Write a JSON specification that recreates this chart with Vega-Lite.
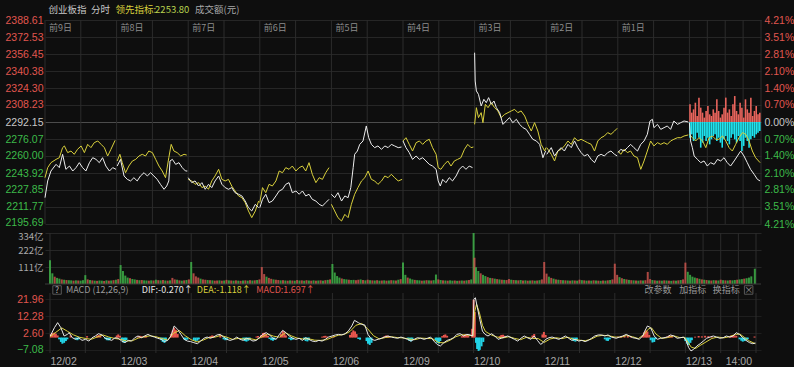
{
  "$schema": "https://vega.github.io/schema/vega-lite/v6.json",
  "background": "#0e0e0e",
  "autosize": {"type": "pad"},
  "padding": {"left": 5, "top": 4, "right": 0, "bottom": 0},
  "bounds": "flush",
  "spacing": 9,
  "config": {
    "view": {"stroke": null},
    "font": "Noto Sans CJK SC",
    "axis": {"domain": false, "ticks": false, "tickSize": 0, "labelFont": "Liberation Sans", "labelFontSize": 10.5, "gridColor": "#262626", "gridWidth": 1, "labelOverlap": false, "labelFlush": false}
  },
  "datasets": {
    "vgrid": [{"t":0},{"t":120},{"t":240},{"t":360},{"t":480},{"t":600},{"t":720},{"t":840},{"t":960},{"t":1080},{"t":1200},{"t":1320},{"t":1440},{"t":1560},{"t":1680},{"t":1800},{"t":1920},{"t":2040},{"t":2160},{"t":2220},{"t":2280},{"t":2340},{"t":2400}],
    "days": [{"t":0,"label":"前9日"},{"t":240,"label":"前8日"},{"t":480,"label":"前7日"},{"t":720,"label":"前6日"},{"t":960,"label":"前5日"},{"t":1200,"label":"前4日"},{"t":1440,"label":"前3日"},{"t":1680,"label":"前2日"},{"t":1920,"label":"前1日"}],
    "wl": [
      {"d":0,"t":0,"p":2220.6},{"d":0,"t":9,"p":2236.4},{"d":0,"t":20,"p":2245.8},{"d":0,"t":37,"p":2252.1},{"d":0,"t":48,"p":2249.0},{"d":0,"t":59,"p":2261.6},{"d":0,"t":70,"p":2247.4},{"d":0,"t":82,"p":2250.5},{"d":0,"t":93,"p":2245.8},{"d":0,"t":104,"p":2249.0},{"d":0,"t":115,"p":2253.7},{"d":0,"t":126,"p":2249.0},{"d":0,"t":137,"p":2245.8},{"d":0,"t":149,"p":2253.7},{"d":0,"t":160,"p":2258.4},{"d":0,"t":171,"p":2256.8},{"d":0,"t":182,"p":2253.7},{"d":0,"t":193,"p":2258.4},{"d":0,"t":204,"p":2250.5},{"d":0,"t":216,"p":2245.8},{"d":0,"t":227,"p":2249.0},{"d":0,"t":238,"p":2247.4},
      {"d":1,"t":242,"p":2250.5},{"d":1,"t":253,"p":2256.8},{"d":1,"t":265,"p":2241.1},{"d":1,"t":276,"p":2237.9},{"d":1,"t":287,"p":2236.4},{"d":1,"t":298,"p":2239.5},{"d":1,"t":309,"p":2236.4},{"d":1,"t":320,"p":2241.1},{"d":1,"t":332,"p":2244.2},{"d":1,"t":343,"p":2241.1},{"d":1,"t":354,"p":2244.2},{"d":1,"t":365,"p":2241.1},{"d":1,"t":376,"p":2237.9},{"d":1,"t":387,"p":2233.2},{"d":1,"t":399,"p":2228.5},{"d":1,"t":408,"p":2231.6},{"d":1,"t":415,"p":2236.4},{"d":1,"t":419,"p":2255.3},{"d":1,"t":427,"p":2256.8},{"d":1,"t":438,"p":2252.1},{"d":1,"t":449,"p":2253.7},{"d":1,"t":460,"p":2249.0},{"d":1,"t":471,"p":2245.8},{"d":1,"t":477,"p":2245.8},
      {"d":2,"t":480,"p":2239.5},{"d":2,"t":492,"p":2234.8},{"d":2,"t":503,"p":2236.4},{"d":2,"t":515,"p":2231.6},{"d":2,"t":526,"p":2234.8},{"d":2,"t":537,"p":2228.5},{"d":2,"t":548,"p":2233.2},{"d":2,"t":559,"p":2230.1},{"d":2,"t":570,"p":2236.4},{"d":2,"t":582,"p":2241.1},{"d":2,"t":593,"p":2233.2},{"d":2,"t":604,"p":2230.1},{"d":2,"t":615,"p":2228.5},{"d":2,"t":626,"p":2230.1},{"d":2,"t":637,"p":2225.3},{"d":2,"t":649,"p":2223.8},{"d":2,"t":660,"p":2222.2},{"d":2,"t":671,"p":2217.4},{"d":2,"t":682,"p":2211.1},{"d":2,"t":693,"p":2208.0},{"d":2,"t":705,"p":2214.3},{"d":2,"t":716,"p":2211.1},
      {"d":3,"t":720,"p":2211.1},{"d":3,"t":729,"p":2219.0},{"d":3,"t":740,"p":2223.8},{"d":3,"t":751,"p":2215.9},{"d":3,"t":762,"p":2217.4},{"d":3,"t":774,"p":2222.2},{"d":3,"t":785,"p":2226.9},{"d":3,"t":796,"p":2228.5},{"d":3,"t":807,"p":2233.2},{"d":3,"t":818,"p":2234.8},{"d":3,"t":829,"p":2225.3},{"d":3,"t":841,"p":2226.9},{"d":3,"t":852,"p":2223.8},{"d":3,"t":863,"p":2226.9},{"d":3,"t":874,"p":2222.2},{"d":3,"t":885,"p":2223.8},{"d":3,"t":896,"p":2219.0},{"d":3,"t":908,"p":2217.4},{"d":3,"t":919,"p":2214.3},{"d":3,"t":930,"p":2212.7},{"d":3,"t":941,"p":2215.9},{"d":3,"t":952,"p":2219.0},
      {"d":4,"t":960,"p":2223.8},{"d":4,"t":971,"p":2220.6},{"d":4,"t":982,"p":2225.3},{"d":4,"t":994,"p":2217.4},{"d":4,"t":1005,"p":2222.2},{"d":4,"t":1016,"p":2220.6},{"d":4,"t":1025,"p":2230.1},{"d":4,"t":1033,"p":2249.0},{"d":4,"t":1038,"p":2261.6},{"d":4,"t":1047,"p":2264.7},{"d":4,"t":1055,"p":2271.0},{"d":4,"t":1066,"p":2274.2},{"d":4,"t":1077,"p":2288.4},{"d":4,"t":1085,"p":2277.3},{"d":4,"t":1094,"p":2271.0},{"d":4,"t":1105,"p":2267.9},{"d":4,"t":1116,"p":2269.5},{"d":4,"t":1128,"p":2266.3},{"d":4,"t":1139,"p":2269.5},{"d":4,"t":1150,"p":2267.9},{"d":4,"t":1161,"p":2271.0},{"d":4,"t":1172,"p":2269.5},{"d":4,"t":1184,"p":2267.9},{"d":4,"t":1195,"p":2268.5},
      {"d":5,"t":1200,"p":2274.2},{"d":5,"t":1210,"p":2267.9},{"d":5,"t":1221,"p":2263.2},{"d":5,"t":1232,"p":2256.8},{"d":5,"t":1244,"p":2260.0},{"d":5,"t":1255,"p":2256.8},{"d":5,"t":1266,"p":2258.4},{"d":5,"t":1277,"p":2255.3},{"d":5,"t":1288,"p":2252.1},{"d":5,"t":1299,"p":2250.5},{"d":5,"t":1311,"p":2247.4},{"d":5,"t":1318,"p":2236.4},{"d":5,"t":1325,"p":2231.6},{"d":5,"t":1333,"p":2237.9},{"d":5,"t":1344,"p":2234.8},{"d":5,"t":1355,"p":2239.5},{"d":5,"t":1366,"p":2236.4},{"d":5,"t":1378,"p":2241.1},{"d":5,"t":1389,"p":2247.4},{"d":5,"t":1400,"p":2250.5},{"d":5,"t":1411,"p":2247.4},{"d":5,"t":1422,"p":2250.5},{"d":5,"t":1433,"p":2249.0},
      {"d":6,"t":1440,"p":2357.7},{"d":6,"t":1442,"p":2330.9},{"d":6,"t":1446,"p":2321.5},{"d":6,"t":1453,"p":2318.3},{"d":6,"t":1462,"p":2307.3},{"d":6,"t":1471,"p":2313.6},{"d":6,"t":1479,"p":2310.4},{"d":6,"t":1487,"p":2315.2},{"d":6,"t":1496,"p":2308.9},{"d":6,"t":1505,"p":2312.0},{"d":6,"t":1513,"p":2305.7},{"d":6,"t":1524,"p":2301.0},{"d":6,"t":1535,"p":2289.9},{"d":6,"t":1546,"p":2293.1},{"d":6,"t":1557,"p":2296.3},{"d":6,"t":1568,"p":2291.5},{"d":6,"t":1580,"p":2294.7},{"d":6,"t":1591,"p":2289.9},{"d":6,"t":1602,"p":2286.8},{"d":6,"t":1613,"p":2285.2},{"d":6,"t":1624,"p":2280.5},{"d":6,"t":1635,"p":2275.8},{"d":6,"t":1647,"p":2274.2},{"d":6,"t":1658,"p":2271.0},{"d":6,"t":1669,"p":2258.4},{"d":6,"t":1678,"p":2264.7},
      {"d":7,"t":1682,"p":2261.6},{"d":7,"t":1697,"p":2267.9},{"d":7,"t":1708,"p":2260.0},{"d":7,"t":1719,"p":2264.7},{"d":7,"t":1730,"p":2267.9},{"d":7,"t":1741,"p":2264.7},{"d":7,"t":1753,"p":2271.0},{"d":7,"t":1764,"p":2267.9},{"d":7,"t":1775,"p":2274.2},{"d":7,"t":1786,"p":2267.9},{"d":7,"t":1797,"p":2263.2},{"d":7,"t":1808,"p":2260.0},{"d":7,"t":1819,"p":2261.6},{"d":7,"t":1831,"p":2256.8},{"d":7,"t":1842,"p":2253.7},{"d":7,"t":1853,"p":2260.0},{"d":7,"t":1864,"p":2261.6},{"d":7,"t":1875,"p":2260.0},{"d":7,"t":1886,"p":2263.2},{"d":7,"t":1897,"p":2264.7},{"d":7,"t":1909,"p":2261.6},{"d":7,"t":1918,"p":2260.0},
      {"d":8,"t":1921,"p":2263.2},{"d":8,"t":1930,"p":2266.3},{"d":8,"t":1941,"p":2264.7},{"d":8,"t":1952,"p":2267.9},{"d":8,"t":1963,"p":2271.0},{"d":8,"t":1974,"p":2267.9},{"d":8,"t":1986,"p":2264.7},{"d":8,"t":1997,"p":2271.0},{"d":8,"t":2008,"p":2274.2},{"d":8,"t":2019,"p":2280.5},{"d":8,"t":2028,"p":2293.1},{"d":8,"t":2036,"p":2294.7},{"d":8,"t":2041,"p":2286.8},{"d":8,"t":2053,"p":2289.9},{"d":8,"t":2064,"p":2285.2},{"d":8,"t":2075,"p":2286.8},{"d":8,"t":2086,"p":2288.4},{"d":8,"t":2097,"p":2285.2},{"d":8,"t":2108,"p":2293.1},{"d":8,"t":2120,"p":2289.9},{"d":8,"t":2131,"p":2291.5},{"d":8,"t":2142,"p":2293.1},{"d":8,"t":2156,"p":2292.2},
      {"d":9,"t":2160,"p":2291.5},{"d":9,"t":2164,"p":2274.2},{"d":9,"t":2170,"p":2267.9},{"d":9,"t":2176,"p":2260.0},{"d":9,"t":2187,"p":2256.8},{"d":9,"t":2198,"p":2253.7},{"d":9,"t":2209,"p":2255.3},{"d":9,"t":2220,"p":2250.5},{"d":9,"t":2231,"p":2253.7},{"d":9,"t":2243,"p":2252.1},{"d":9,"t":2254,"p":2256.8},{"d":9,"t":2265,"p":2255.3},{"d":9,"t":2276,"p":2258.4},{"d":9,"t":2287,"p":2253.7},{"d":9,"t":2298,"p":2250.5},{"d":9,"t":2310,"p":2255.3},{"d":9,"t":2321,"p":2260.0},{"d":9,"t":2332,"p":2264.7},{"d":9,"t":2343,"p":2260.0},{"d":9,"t":2354,"p":2253.7},{"d":9,"t":2365,"p":2247.4},{"d":9,"t":2377,"p":2242.7},{"d":9,"t":2388,"p":2237.9},{"d":9,"t":2397,"p":2236.4}
    ],
    "yl": [
      {"d":0,"t":0,"p":2239.5},{"d":0,"t":9,"p":2249.0},{"d":0,"t":20,"p":2253.7},{"d":0,"t":37,"p":2256.8},{"d":0,"t":48,"p":2258.4},{"d":0,"t":59,"p":2267.9},{"d":0,"t":65,"p":2269.5},{"d":0,"t":76,"p":2263.2},{"d":0,"t":87,"p":2264.7},{"d":0,"t":98,"p":2261.6},{"d":0,"t":109,"p":2266.3},{"d":0,"t":121,"p":2269.5},{"d":0,"t":132,"p":2263.2},{"d":0,"t":143,"p":2271.0},{"d":0,"t":154,"p":2267.9},{"d":0,"t":165,"p":2272.6},{"d":0,"t":177,"p":2274.2},{"d":0,"t":188,"p":2271.0},{"d":0,"t":199,"p":2267.9},{"d":0,"t":210,"p":2260.0},{"d":0,"t":221,"p":2266.3},{"d":0,"t":235,"p":2274.8},
      {"d":1,"t":242,"p":2255.3},{"d":1,"t":251,"p":2261.6},{"d":1,"t":259,"p":2253.7},{"d":1,"t":270,"p":2244.2},{"d":1,"t":281,"p":2250.5},{"d":1,"t":293,"p":2255.3},{"d":1,"t":304,"p":2256.8},{"d":1,"t":315,"p":2260.0},{"d":1,"t":326,"p":2261.6},{"d":1,"t":337,"p":2260.0},{"d":1,"t":348,"p":2264.7},{"d":1,"t":360,"p":2263.2},{"d":1,"t":371,"p":2256.8},{"d":1,"t":382,"p":2250.5},{"d":1,"t":393,"p":2245.8},{"d":1,"t":404,"p":2239.5},{"d":1,"t":415,"p":2258.4},{"d":1,"t":423,"p":2271.0},{"d":1,"t":432,"p":2264.7},{"d":1,"t":443,"p":2263.2},{"d":1,"t":455,"p":2260.0},{"d":1,"t":466,"p":2261.6},{"d":1,"t":475,"p":2260.9},
      {"d":2,"t":480,"p":2237.9},{"d":2,"t":492,"p":2236.4},{"d":2,"t":503,"p":2233.2},{"d":2,"t":515,"p":2234.8},{"d":2,"t":526,"p":2230.1},{"d":2,"t":537,"p":2231.6},{"d":2,"t":548,"p":2228.5},{"d":2,"t":559,"p":2236.4},{"d":2,"t":570,"p":2241.1},{"d":2,"t":582,"p":2247.4},{"d":2,"t":593,"p":2237.9},{"d":2,"t":604,"p":2236.4},{"d":2,"t":615,"p":2237.9},{"d":2,"t":626,"p":2231.6},{"d":2,"t":637,"p":2226.9},{"d":2,"t":649,"p":2222.2},{"d":2,"t":660,"p":2220.6},{"d":2,"t":671,"p":2215.9},{"d":2,"t":682,"p":2208.0},{"d":2,"t":693,"p":2201.7},{"d":2,"t":705,"p":2208.0},{"d":2,"t":716,"p":2217.4},
      {"d":3,"t":720,"p":2215.9},{"d":3,"t":729,"p":2230.1},{"d":3,"t":740,"p":2225.3},{"d":3,"t":751,"p":2233.2},{"d":3,"t":762,"p":2231.6},{"d":3,"t":774,"p":2236.4},{"d":3,"t":785,"p":2245.8},{"d":3,"t":796,"p":2244.2},{"d":3,"t":807,"p":2249.0},{"d":3,"t":818,"p":2247.4},{"d":3,"t":829,"p":2250.5},{"d":3,"t":841,"p":2245.8},{"d":3,"t":852,"p":2249.0},{"d":3,"t":863,"p":2250.5},{"d":3,"t":874,"p":2245.8},{"d":3,"t":885,"p":2253.7},{"d":3,"t":896,"p":2242.7},{"d":3,"t":908,"p":2234.8},{"d":3,"t":919,"p":2239.5},{"d":3,"t":930,"p":2237.9},{"d":3,"t":941,"p":2244.2},{"d":3,"t":952,"p":2249.0},
      {"d":4,"t":960,"p":2214.3},{"d":4,"t":971,"p":2208.0},{"d":4,"t":982,"p":2201.7},{"d":4,"t":994,"p":2198.5},{"d":4,"t":1005,"p":2204.8},{"d":4,"t":1016,"p":2201.7},{"d":4,"t":1027,"p":2214.3},{"d":4,"t":1038,"p":2223.8},{"d":4,"t":1049,"p":2230.1},{"d":4,"t":1061,"p":2236.4},{"d":4,"t":1072,"p":2239.5},{"d":4,"t":1083,"p":2245.8},{"d":4,"t":1094,"p":2237.9},{"d":4,"t":1105,"p":2236.4},{"d":4,"t":1116,"p":2233.2},{"d":4,"t":1128,"p":2236.4},{"d":4,"t":1139,"p":2241.1},{"d":4,"t":1150,"p":2239.5},{"d":4,"t":1161,"p":2242.7},{"d":4,"t":1172,"p":2239.5},{"d":4,"t":1184,"p":2236.4},{"d":4,"t":1197,"p":2237.9},
      {"d":5,"t":1200,"p":2274.2},{"d":5,"t":1210,"p":2277.3},{"d":5,"t":1221,"p":2271.0},{"d":5,"t":1232,"p":2264.7},{"d":5,"t":1244,"p":2272.6},{"d":5,"t":1255,"p":2274.2},{"d":5,"t":1266,"p":2271.0},{"d":5,"t":1277,"p":2274.2},{"d":5,"t":1288,"p":2275.8},{"d":5,"t":1299,"p":2267.9},{"d":5,"t":1311,"p":2261.6},{"d":5,"t":1318,"p":2249.0},{"d":5,"t":1327,"p":2247.4},{"d":5,"t":1339,"p":2252.1},{"d":5,"t":1350,"p":2255.3},{"d":5,"t":1361,"p":2250.5},{"d":5,"t":1372,"p":2255.3},{"d":5,"t":1383,"p":2256.8},{"d":5,"t":1394,"p":2258.4},{"d":5,"t":1406,"p":2266.3},{"d":5,"t":1417,"p":2271.0},{"d":5,"t":1428,"p":2267.9},{"d":5,"t":1436,"p":2268.5},
      {"d":6,"t":1440,"p":2289.9},{"d":6,"t":1446,"p":2305.7},{"d":6,"t":1453,"p":2296.3},{"d":6,"t":1462,"p":2301.0},{"d":6,"t":1468,"p":2291.5},{"d":6,"t":1476,"p":2308.9},{"d":6,"t":1485,"p":2305.7},{"d":6,"t":1496,"p":2310.4},{"d":6,"t":1507,"p":2305.7},{"d":6,"t":1518,"p":2302.6},{"d":6,"t":1529,"p":2296.3},{"d":6,"t":1541,"p":2299.4},{"d":6,"t":1552,"p":2301.0},{"d":6,"t":1563,"p":2302.6},{"d":6,"t":1574,"p":2304.1},{"d":6,"t":1585,"p":2301.0},{"d":6,"t":1596,"p":2302.6},{"d":6,"t":1608,"p":2297.8},{"d":6,"t":1619,"p":2289.9},{"d":6,"t":1630,"p":2283.6},{"d":6,"t":1641,"p":2291.5},{"d":6,"t":1652,"p":2283.6},{"d":6,"t":1663,"p":2271.0},{"d":6,"t":1675,"p":2264.7},{"d":6,"t":1679,"p":2267.9},
      {"d":7,"t":1682,"p":2267.9},{"d":7,"t":1697,"p":2261.6},{"d":7,"t":1708,"p":2255.3},{"d":7,"t":1719,"p":2264.7},{"d":7,"t":1730,"p":2266.3},{"d":7,"t":1741,"p":2269.5},{"d":7,"t":1753,"p":2274.2},{"d":7,"t":1764,"p":2271.0},{"d":7,"t":1775,"p":2277.3},{"d":7,"t":1786,"p":2274.2},{"d":7,"t":1797,"p":2275.8},{"d":7,"t":1808,"p":2274.2},{"d":7,"t":1819,"p":2272.6},{"d":7,"t":1831,"p":2271.0},{"d":7,"t":1842,"p":2264.7},{"d":7,"t":1853,"p":2274.2},{"d":7,"t":1864,"p":2277.3},{"d":7,"t":1875,"p":2278.9},{"d":7,"t":1886,"p":2282.1},{"d":7,"t":1897,"p":2280.5},{"d":7,"t":1909,"p":2283.6},{"d":7,"t":1918,"p":2286.2},
      {"d":8,"t":1921,"p":2264.7},{"d":8,"t":1930,"p":2261.6},{"d":8,"t":1941,"p":2266.3},{"d":8,"t":1952,"p":2263.2},{"d":8,"t":1963,"p":2264.7},{"d":8,"t":1974,"p":2260.0},{"d":8,"t":1986,"p":2258.4},{"d":8,"t":1997,"p":2247.4},{"d":8,"t":2008,"p":2255.3},{"d":8,"t":2019,"p":2264.7},{"d":8,"t":2030,"p":2274.2},{"d":8,"t":2041,"p":2269.5},{"d":8,"t":2053,"p":2272.6},{"d":8,"t":2064,"p":2271.0},{"d":8,"t":2075,"p":2272.6},{"d":8,"t":2086,"p":2271.0},{"d":8,"t":2097,"p":2274.2},{"d":8,"t":2108,"p":2275.8},{"d":8,"t":2120,"p":2277.3},{"d":8,"t":2131,"p":2277.3},{"d":8,"t":2142,"p":2278.9},{"d":8,"t":2156,"p":2279.9},
      {"d":9,"t":2160,"p":2280.5},{"d":9,"t":2170,"p":2277.3},{"d":9,"t":2181,"p":2274.2},{"d":9,"t":2192,"p":2277.3},{"d":9,"t":2204,"p":2274.2},{"d":9,"t":2215,"p":2267.9},{"d":9,"t":2226,"p":2277.3},{"d":9,"t":2237,"p":2278.9},{"d":9,"t":2248,"p":2275.8},{"d":9,"t":2259,"p":2275.8},{"d":9,"t":2271,"p":2278.9},{"d":9,"t":2282,"p":2274.2},{"d":9,"t":2293,"p":2267.9},{"d":9,"t":2304,"p":2264.7},{"d":9,"t":2315,"p":2271.0},{"d":9,"t":2326,"p":2277.3},{"d":9,"t":2338,"p":2282.1},{"d":9,"t":2349,"p":2280.5},{"d":9,"t":2360,"p":2274.2},{"d":9,"t":2371,"p":2264.7},{"d":9,"t":2382,"p":2258.4},{"d":9,"t":2397,"p":2253.7}
    ],
    "lb": [
      {"t":2162,"up":2308.9,"dn":2277.3},{"t":2168,"up":2301.0,"dn":2280.5},{"t":2174,"up":2304.1,"dn":2274.2},{"t":2180,"up":2310.4,"dn":2275.8},{"t":2186,"up":2297.8,"dn":2282.1},{"t":2192,"up":2315.2,"dn":2277.3},{"t":2198,"up":2305.7,"dn":2267.9},{"t":2204,"up":2301.0,"dn":2272.6},{"t":2210,"up":2296.3,"dn":2278.9},{"t":2216,"up":2302.6,"dn":2274.2},
      {"t":2222,"up":2307.3,"dn":2277.3},{"t":2228,"up":2299.4,"dn":2271.0},{"t":2234,"up":2297.8,"dn":2275.8},{"t":2240,"up":2304.1,"dn":2278.9},{"t":2246,"up":2301.0,"dn":2280.5},{"t":2252,"up":2313.6,"dn":2274.2},{"t":2258,"up":2302.6,"dn":2277.3},{"t":2264,"up":2296.3,"dn":2272.6},{"t":2270,"up":2299.4,"dn":2267.9},{"t":2276,"up":2305.7,"dn":2275.8},
      {"t":2282,"up":2315.2,"dn":2278.9},{"t":2288,"up":2301.0,"dn":2274.2},{"t":2294,"up":2304.1,"dn":2271.0},{"t":2300,"up":2297.8,"dn":2277.3},{"t":2306,"up":2308.9,"dn":2280.5},{"t":2312,"up":2316.7,"dn":2275.8},{"t":2318,"up":2302.6,"dn":2272.6},{"t":2324,"up":2299.4,"dn":2278.9},{"t":2330,"up":2310.4,"dn":2274.2},{"t":2336,"up":2305.7,"dn":2264.7},
      {"t":2342,"up":2296.3,"dn":2269.5},{"t":2348,"up":2313.6,"dn":2277.3},{"t":2354,"up":2304.1,"dn":2274.2},{"t":2360,"up":2301.0,"dn":2267.9},{"t":2366,"up":2315.2,"dn":2275.8},{"t":2372,"up":2297.8,"dn":2278.9},{"t":2378,"up":2302.6,"dn":2277.3},{"t":2384,"up":2307.3,"dn":2280.5},{"t":2390,"up":2299.4,"dn":2282.1},{"t":2396,"up":2301.0,"dn":2283.6}
    ],
    "vol": [
      {"t":0,"v":155,"c":"g"},{"t":8,"v":70,"c":"g"},{"t":16,"v":48,"c":"r"},{"t":24,"v":40,"c":"g"},{"t":32,"v":35,"c":"g"},{"t":40,"v":30,"c":"r"},{"t":48,"v":28,"c":"g"},{"t":56,"v":26,"c":"r"},{"t":64,"v":25,"c":"g"},{"t":72,"v":24,"c":"g"},{"t":80,"v":22,"c":"r"},{"t":88,"v":24,"c":"g"},{"t":96,"v":23,"c":"r"},{"t":104,"v":22,"c":"g"},{"t":112,"v":25,"c":"g"},{"t":120,"v":58,"c":"g"},{"t":128,"v":30,"c":"r"},{"t":136,"v":26,"c":"g"},{"t":144,"v":24,"c":"r"},{"t":152,"v":22,"c":"g"},{"t":160,"v":21,"c":"r"},{"t":168,"v":23,"c":"g"},{"t":176,"v":22,"c":"g"},{"t":184,"v":20,"c":"r"},{"t":192,"v":24,"c":"g"},{"t":200,"v":22,"c":"r"},{"t":208,"v":23,"c":"g"},{"t":216,"v":25,"c":"r"},{"t":224,"v":28,"c":"g"},{"t":232,"v":32,"c":"r"},
      {"t":240,"v":124,"c":"g"},{"t":248,"v":85,"c":"g"},{"t":256,"v":55,"c":"g"},{"t":264,"v":42,"c":"g"},{"t":272,"v":38,"c":"r"},{"t":280,"v":33,"c":"g"},{"t":288,"v":30,"c":"g"},{"t":296,"v":27,"c":"r"},{"t":304,"v":25,"c":"g"},{"t":312,"v":26,"c":"r"},{"t":320,"v":24,"c":"g"},{"t":328,"v":23,"c":"g"},{"t":336,"v":22,"c":"r"},{"t":344,"v":24,"c":"g"},{"t":352,"v":23,"c":"r"},{"t":360,"v":28,"c":"g"},{"t":368,"v":25,"c":"r"},{"t":376,"v":24,"c":"g"},{"t":384,"v":26,"c":"r"},{"t":392,"v":23,"c":"g"},{"t":400,"v":22,"c":"r"},{"t":408,"v":24,"c":"g"},{"t":416,"v":40,"c":"r"},{"t":424,"v":30,"c":"r"},{"t":432,"v":28,"c":"g"},{"t":440,"v":24,"c":"r"},{"t":448,"v":22,"c":"g"},{"t":456,"v":24,"c":"r"},{"t":464,"v":26,"c":"g"},{"t":472,"v":30,"c":"r"},
      {"t":480,"v":144,"c":"g"},{"t":488,"v":70,"c":"r"},{"t":496,"v":50,"c":"r"},{"t":504,"v":42,"c":"r"},{"t":512,"v":35,"c":"g"},{"t":520,"v":30,"c":"r"},{"t":528,"v":28,"c":"r"},{"t":536,"v":26,"c":"g"},{"t":544,"v":25,"c":"r"},{"t":552,"v":24,"c":"g"},{"t":560,"v":22,"c":"r"},{"t":568,"v":23,"c":"r"},{"t":576,"v":24,"c":"g"},{"t":584,"v":22,"c":"r"},{"t":592,"v":23,"c":"g"},{"t":600,"v":27,"c":"r"},{"t":608,"v":24,"c":"g"},{"t":616,"v":23,"c":"r"},{"t":624,"v":22,"c":"g"},{"t":632,"v":24,"c":"r"},{"t":640,"v":22,"c":"g"},{"t":648,"v":21,"c":"r"},{"t":656,"v":23,"c":"g"},{"t":664,"v":24,"c":"r"},{"t":672,"v":22,"c":"g"},{"t":680,"v":25,"c":"r"},{"t":688,"v":23,"c":"g"},{"t":696,"v":24,"c":"r"},{"t":704,"v":26,"c":"g"},{"t":712,"v":30,"c":"r"},
      {"t":720,"v":111,"c":"r"},{"t":728,"v":65,"c":"r"},{"t":736,"v":48,"c":"g"},{"t":744,"v":40,"c":"r"},{"t":752,"v":34,"c":"r"},{"t":760,"v":30,"c":"g"},{"t":768,"v":28,"c":"r"},{"t":776,"v":26,"c":"r"},{"t":784,"v":24,"c":"g"},{"t":792,"v":25,"c":"r"},{"t":800,"v":23,"c":"g"},{"t":808,"v":22,"c":"r"},{"t":816,"v":24,"c":"g"},{"t":824,"v":23,"c":"r"},{"t":832,"v":22,"c":"g"},{"t":840,"v":26,"c":"r"},{"t":848,"v":23,"c":"g"},{"t":856,"v":24,"c":"r"},{"t":864,"v":22,"c":"g"},{"t":872,"v":25,"c":"r"},{"t":880,"v":23,"c":"g"},{"t":888,"v":22,"c":"r"},{"t":896,"v":24,"c":"g"},{"t":904,"v":22,"c":"r"},{"t":912,"v":23,"c":"g"},{"t":920,"v":24,"c":"r"},{"t":928,"v":22,"c":"g"},{"t":936,"v":25,"c":"r"},{"t":944,"v":27,"c":"g"},{"t":952,"v":30,"c":"r"},
      {"t":960,"v":131,"c":"g"},{"t":968,"v":75,"c":"g"},{"t":976,"v":52,"c":"g"},{"t":984,"v":42,"c":"g"},{"t":992,"v":36,"c":"r"},{"t":1000,"v":32,"c":"g"},{"t":1008,"v":30,"c":"g"},{"t":1016,"v":28,"c":"r"},{"t":1024,"v":26,"c":"g"},{"t":1032,"v":27,"c":"g"},{"t":1040,"v":25,"c":"r"},{"t":1048,"v":28,"c":"r"},{"t":1056,"v":30,"c":"g"},{"t":1064,"v":26,"c":"r"},{"t":1072,"v":24,"c":"g"},{"t":1080,"v":28,"c":"r"},{"t":1088,"v":25,"c":"g"},{"t":1096,"v":24,"c":"r"},{"t":1104,"v":23,"c":"g"},{"t":1112,"v":25,"c":"r"},{"t":1120,"v":22,"c":"g"},{"t":1128,"v":23,"c":"r"},{"t":1136,"v":24,"c":"g"},{"t":1144,"v":22,"c":"r"},{"t":1152,"v":23,"c":"g"},{"t":1160,"v":25,"c":"r"},{"t":1168,"v":24,"c":"g"},{"t":1176,"v":23,"c":"r"},{"t":1184,"v":28,"c":"g"},{"t":1192,"v":32,"c":"r"},
      {"t":1200,"v":140,"c":"g"},{"t":1208,"v":60,"c":"g"},{"t":1216,"v":42,"c":"r"},{"t":1224,"v":36,"c":"g"},{"t":1232,"v":30,"c":"g"},{"t":1240,"v":27,"c":"r"},{"t":1248,"v":25,"c":"g"},{"t":1256,"v":24,"c":"g"},{"t":1264,"v":22,"c":"r"},{"t":1272,"v":23,"c":"g"},{"t":1280,"v":25,"c":"r"},{"t":1288,"v":24,"c":"g"},{"t":1296,"v":23,"c":"r"},{"t":1304,"v":25,"c":"g"},{"t":1312,"v":62,"c":"g"},{"t":1320,"v":30,"c":"r"},{"t":1328,"v":26,"c":"g"},{"t":1336,"v":24,"c":"r"},{"t":1344,"v":23,"c":"g"},{"t":1352,"v":22,"c":"r"},{"t":1360,"v":24,"c":"g"},{"t":1368,"v":22,"c":"g"},{"t":1376,"v":23,"c":"r"},{"t":1384,"v":21,"c":"g"},{"t":1392,"v":22,"c":"r"},{"t":1400,"v":23,"c":"g"},{"t":1408,"v":22,"c":"r"},{"t":1416,"v":24,"c":"g"},{"t":1424,"v":26,"c":"r"},{"t":1432,"v":30,"c":"g"},
      {"t":1440,"v":334,"c":"g"},{"t":1443,"v":172,"c":"r"},{"t":1448,"v":110,"c":"g"},{"t":1456,"v":85,"c":"g"},{"t":1464,"v":70,"c":"r"},{"t":1472,"v":60,"c":"g"},{"t":1480,"v":52,"c":"g"},{"t":1488,"v":45,"c":"r"},{"t":1496,"v":40,"c":"g"},{"t":1504,"v":38,"c":"r"},{"t":1512,"v":35,"c":"g"},{"t":1520,"v":32,"c":"r"},{"t":1528,"v":30,"c":"g"},{"t":1536,"v":28,"c":"r"},{"t":1544,"v":27,"c":"g"},{"t":1552,"v":26,"c":"r"},{"t":1560,"v":32,"c":"r"},{"t":1568,"v":28,"c":"g"},{"t":1576,"v":26,"c":"r"},{"t":1584,"v":25,"c":"g"},{"t":1592,"v":24,"c":"r"},{"t":1600,"v":26,"c":"g"},{"t":1608,"v":23,"c":"r"},{"t":1616,"v":24,"c":"g"},{"t":1624,"v":22,"c":"r"},{"t":1632,"v":23,"c":"g"},{"t":1640,"v":24,"c":"r"},{"t":1648,"v":22,"c":"g"},{"t":1656,"v":23,"c":"r"},{"t":1664,"v":25,"c":"g"},{"t":1672,"v":30,"c":"r"},
      {"t":1680,"v":144,"c":"r"},{"t":1688,"v":68,"c":"r"},{"t":1696,"v":48,"c":"g"},{"t":1704,"v":40,"c":"r"},{"t":1712,"v":35,"c":"g"},{"t":1720,"v":30,"c":"r"},{"t":1728,"v":28,"c":"g"},{"t":1736,"v":26,"c":"r"},{"t":1744,"v":25,"c":"g"},{"t":1752,"v":24,"c":"r"},{"t":1760,"v":23,"c":"g"},{"t":1768,"v":22,"c":"r"},{"t":1776,"v":24,"c":"g"},{"t":1784,"v":23,"c":"r"},{"t":1792,"v":22,"c":"g"},{"t":1800,"v":28,"c":"r"},{"t":1808,"v":25,"c":"g"},{"t":1816,"v":24,"c":"r"},{"t":1824,"v":22,"c":"g"},{"t":1832,"v":23,"c":"r"},{"t":1840,"v":22,"c":"g"},{"t":1848,"v":24,"c":"r"},{"t":1856,"v":23,"c":"g"},{"t":1864,"v":22,"c":"r"},{"t":1872,"v":21,"c":"g"},{"t":1880,"v":23,"c":"r"},{"t":1888,"v":22,"c":"g"},{"t":1896,"v":24,"c":"r"},{"t":1904,"v":26,"c":"g"},{"t":1912,"v":30,"c":"r"},
      {"t":1920,"v":133,"c":"r"},{"t":1928,"v":60,"c":"r"},{"t":1936,"v":45,"c":"g"},{"t":1944,"v":38,"c":"r"},{"t":1952,"v":33,"c":"g"},{"t":1960,"v":30,"c":"r"},{"t":1968,"v":27,"c":"g"},{"t":1976,"v":25,"c":"r"},{"t":1984,"v":24,"c":"g"},{"t":1992,"v":23,"c":"r"},{"t":2000,"v":22,"c":"g"},{"t":2008,"v":24,"c":"r"},{"t":2016,"v":23,"c":"g"},{"t":2024,"v":25,"c":"r"},{"t":2032,"v":79,"c":"r"},{"t":2040,"v":32,"c":"r"},{"t":2048,"v":26,"c":"g"},{"t":2056,"v":24,"c":"r"},{"t":2064,"v":22,"c":"g"},{"t":2072,"v":23,"c":"r"},{"t":2080,"v":22,"c":"g"},{"t":2088,"v":24,"c":"r"},{"t":2096,"v":23,"c":"g"},{"t":2104,"v":22,"c":"r"},{"t":2112,"v":21,"c":"g"},{"t":2120,"v":23,"c":"r"},{"t":2128,"v":22,"c":"g"},{"t":2136,"v":24,"c":"r"},{"t":2144,"v":26,"c":"g"},{"t":2152,"v":30,"c":"r"},
      {"t":2160,"v":140,"c":"r"},{"t":2168,"v":80,"c":"g"},{"t":2176,"v":60,"c":"g"},{"t":2184,"v":48,"c":"g"},{"t":2192,"v":42,"c":"g"},{"t":2200,"v":38,"c":"r"},{"t":2208,"v":34,"c":"g"},{"t":2216,"v":30,"c":"r"},{"t":2224,"v":28,"c":"g"},{"t":2232,"v":26,"c":"r"},{"t":2240,"v":24,"c":"g"},{"t":2248,"v":23,"c":"r"},{"t":2256,"v":25,"c":"g"},{"t":2264,"v":24,"c":"r"},{"t":2272,"v":23,"c":"g"},{"t":2280,"v":28,"c":"r"},{"t":2288,"v":25,"c":"g"},{"t":2296,"v":24,"c":"r"},{"t":2304,"v":23,"c":"g"},{"t":2312,"v":25,"c":"r"},{"t":2320,"v":24,"c":"g"},{"t":2328,"v":26,"c":"g"},{"t":2336,"v":28,"c":"r"},{"t":2344,"v":30,"c":"g"},{"t":2352,"v":32,"c":"g"},{"t":2360,"v":35,"c":"r"},{"t":2368,"v":38,"c":"g"},{"t":2376,"v":42,"c":"g"},{"t":2384,"v":50,"c":"g"},{"t":2396,"v":100,"c":"g"}
    ],
    "mb": [
      {"t":3,"m":2.0},{"t":9,"m":2.6},{"t":15,"m":2.8},{"t":20,"m":2.2},{"t":26,"m":1.2},{"t":31,"m":-1.0},{"t":37,"m":-2.5},{"t":42,"m":-3.5},{"t":48,"m":-3.0},{"t":54,"m":-2.0},{"t":59,"m":-1.0},{"t":70,"m":1.2},{"t":87,"m":-1.0},{"t":93,"m":-1.5},{"t":98,"m":-1.0},{"t":126,"m":0.8},{"t":160,"m":1.0},{"t":165,"m":1.5},{"t":171,"m":1.2},{"t":188,"m":-0.8},{"t":193,"m":-1.5},{"t":199,"m":-1.6},{"t":204,"m":-1.0},{"t":227,"m":1.2},{"t":232,"m":1.8},{"t":238,"m":1.0},
      {"t":244,"m":-1.5},{"t":249,"m":-2.8},{"t":255,"m":-2.5},{"t":260,"m":-1.5},{"t":299,"m":0.6},{"t":305,"m":1.0},{"t":311,"m":0.8},{"t":322,"m":1.0},{"t":327,"m":0.6},{"t":378,"m":-1.5},{"t":383,"m":-2.5},{"t":389,"m":-3.0},{"t":394,"m":-2.0},{"t":411,"m":2.0},{"t":417,"m":4.0},{"t":422,"m":5.6},{"t":428,"m":4.5},{"t":434,"m":2.0},{"t":456,"m":-1.0},{"t":461,"m":-1.5},{"t":467,"m":-1.2},
      {"t":489,"m":-1.5},{"t":495,"m":-2.0},{"t":501,"m":-1.8},{"t":506,"m":-1.0},{"t":545,"m":0.8},{"t":551,"m":1.2},{"t":556,"m":1.0},{"t":579,"m":1.5},{"t":590,"m":-1.0},{"t":596,"m":-1.5},{"t":601,"m":-1.2},{"t":657,"m":-1.2},{"t":663,"m":-2.0},{"t":668,"m":-2.3},{"t":674,"m":-1.8},{"t":679,"m":-1.0},{"t":702,"m":0.6},{"t":707,"m":0.9},
      {"t":718,"m":1.5},{"t":724,"m":2.6},{"t":729,"m":2.8},{"t":735,"m":2.0},{"t":741,"m":1.0},{"t":746,"m":-0.8},{"t":752,"m":-1.5},{"t":758,"m":-1.8},{"t":763,"m":-1.2},{"t":785,"m":2.0},{"t":791,"m":3.8},{"t":797,"m":3.0},{"t":802,"m":1.2},{"t":813,"m":-0.8},{"t":819,"m":-1.5},{"t":825,"m":-1.2},{"t":864,"m":-1.0},{"t":869,"m":-2.0},{"t":875,"m":-2.2},{"t":880,"m":-1.5},{"t":925,"m":0.5},{"t":931,"m":0.8},{"t":936,"m":1.0},{"t":942,"m":0.6},
      {"t":964,"m":0.6},{"t":1020,"m":1.5},{"t":1026,"m":3.0},{"t":1031,"m":4.1},{"t":1037,"m":3.5},{"t":1042,"m":2.0},{"t":1048,"m":-0.8},{"t":1054,"m":-1.2},{"t":1076,"m":-2.0},{"t":1081,"m":-3.5},{"t":1087,"m":-4.2},{"t":1093,"m":-3.0},{"t":1137,"m":0.8},{"t":1143,"m":1.2},{"t":1149,"m":1.0},{"t":1154,"m":0.6},
      {"t":1216,"m":-1.0},{"t":1221,"m":-1.8},{"t":1227,"m":-2.2},{"t":1232,"m":-1.5},{"t":1311,"m":-1.5},{"t":1316,"m":-3.0},{"t":1322,"m":-3.4},{"t":1327,"m":-2.0},{"t":1333,"m":0.8},{"t":1339,"m":1.5},{"t":1344,"m":1.8},{"t":1350,"m":1.0},{"t":1400,"m":0.8},{"t":1406,"m":1.5},{"t":1411,"m":1.8},{"t":1417,"m":1.5},{"t":1422,"m":1.0},{"t":1435,"m":5.0},
      {"t":1440,"m":21.5},{"t":1444,"m":14.5},{"t":1448,"m":-3.0},{"t":1452,"m":-6.5},{"t":1457,"m":-7.6},{"t":1461,"m":-7.0},{"t":1467,"m":-5.0},{"t":1473,"m":-2.5},{"t":1529,"m":0.8},{"t":1534,"m":1.5},{"t":1540,"m":1.6},{"t":1545,"m":1.0},{"t":1640,"m":1.2},{"t":1646,"m":2.0},{"t":1674,"m":1.8},{"t":1679,"m":3.2},
      {"t":1685,"m":1.5},{"t":1774,"m":-1.0},{"t":1780,"m":-2.0},{"t":1786,"m":-2.3},{"t":1791,"m":-1.5},{"t":1886,"m":-1.0},{"t":1892,"m":-1.8},{"t":1897,"m":-1.9},{"t":1903,"m":-1.0},
      {"t":1931,"m":0.5},{"t":1942,"m":0.9},{"t":1953,"m":1.2},{"t":1964,"m":1.0},{"t":1975,"m":0.6},{"t":2015,"m":1.5},{"t":2020,"m":3.0},{"t":2026,"m":4.1},{"t":2031,"m":3.5},{"t":2037,"m":1.5},{"t":2042,"m":-1.5},{"t":2048,"m":-2.8},{"t":2054,"m":-2.5},{"t":2059,"m":-1.0},{"t":2098,"m":0.6},{"t":2104,"m":1.0},{"t":2110,"m":1.2},{"t":2115,"m":0.8},
      {"t":2160,"m":-2.0},{"t":2166,"m":-3.5},{"t":2171,"m":-4.2},{"t":2177,"m":-3.0},{"t":2182,"m":-1.5},{"t":2193,"m":0.5},{"t":2205,"m":0.9},{"t":2216,"m":0.7},{"t":2227,"m":1.0},{"t":2238,"m":0.8},{"t":2249,"m":0.6},{"t":2311,"m":0.8},{"t":2316,"m":1.2},{"t":2322,"m":1.5},{"t":2327,"m":1.3},{"t":2333,"m":1.0},{"t":2344,"m":-1.0},{"t":2350,"m":-1.8},{"t":2355,"m":-2.3},{"t":2361,"m":-2.0},{"t":2367,"m":-1.5},{"t":2372,"m":-1.0},{"t":2395,"m":0.6}
    ],
    "dif": [
      {"t":1,"v":0.9},{"t":15,"v":5.6},{"t":26,"v":8.5},{"t":37,"v":5.6},{"t":48,"v":0.9},{"t":59,"v":1.8},{"t":65,"v":2.8},{"t":76,"v":-0.1},{"t":87,"v":-1.0},{"t":98,"v":-0.1},{"t":109,"v":-1.6},{"t":121,"v":-1.0},{"t":132,"v":-2.0},{"t":143,"v":-0.1},{"t":154,"v":0.9},{"t":165,"v":2.2},{"t":177,"v":1.5},{"t":188,"v":-0.4},{"t":199,"v":-1.0},{"t":210,"v":-1.6},{"t":221,"v":-0.1},{"t":232,"v":-0.4},
      {"t":244,"v":-2.0},{"t":255,"v":-2.9},{"t":266,"v":-1.6},{"t":277,"v":-2.0},{"t":288,"v":-0.1},{"t":299,"v":0.9},{"t":311,"v":-0.1},{"t":322,"v":0.9},{"t":333,"v":1.8},{"t":344,"v":0.9},{"t":355,"v":0.3},{"t":366,"v":-0.4},{"t":378,"v":-1.0},{"t":389,"v":-2.3},{"t":400,"v":-1.6},{"t":411,"v":0.9},{"t":422,"v":6.6},{"t":434,"v":4.7},{"t":445,"v":1.8},{"t":456,"v":-1.0},{"t":467,"v":-2.0},{"t":478,"v":-2.3},
      {"t":489,"v":-2.9},{"t":501,"v":-3.5},{"t":512,"v":-2.0},{"t":523,"v":-0.4},{"t":534,"v":0.3},{"t":545,"v":-0.4},{"t":556,"v":0.3},{"t":568,"v":1.5},{"t":579,"v":1.8},{"t":590,"v":0.3},{"t":601,"v":-1.0},{"t":612,"v":-1.6},{"t":624,"v":-1.0},{"t":635,"v":0.3},{"t":646,"v":-1.0},{"t":657,"v":-1.6},{"t":668,"v":-0.4},{"t":679,"v":-1.0},{"t":690,"v":-2.0},{"t":702,"v":-1.6},{"t":713,"v":0.3},
      {"t":724,"v":1.8},{"t":735,"v":2.8},{"t":746,"v":1.5},{"t":758,"v":-0.4},{"t":769,"v":-1.0},{"t":780,"v":1.8},{"t":791,"v":4.1},{"t":802,"v":2.8},{"t":813,"v":0.9},{"t":825,"v":-0.4},{"t":836,"v":-1.0},{"t":847,"v":-0.4},{"t":858,"v":-1.6},{"t":869,"v":-0.1},{"t":880,"v":-1.0},{"t":891,"v":-2.0},{"t":903,"v":-2.3},{"t":914,"v":-1.6},{"t":925,"v":-2.0},{"t":936,"v":-1.0},{"t":947,"v":0.3},{"t":959,"v":0.9},
      {"t":970,"v":1.5},{"t":981,"v":1.8},{"t":992,"v":1.5},{"t":1003,"v":2.2},{"t":1014,"v":3.7},{"t":1026,"v":6.6},{"t":1035,"v":9.8},{"t":1048,"v":8.5},{"t":1059,"v":7.5},{"t":1070,"v":7.2},{"t":1081,"v":1.8},{"t":1093,"v":-1.0},{"t":1104,"v":-1.6},{"t":1115,"v":-1.0},{"t":1126,"v":-0.4},{"t":1137,"v":0.3},{"t":1149,"v":0.9},{"t":1160,"v":0.3},{"t":1171,"v":-0.1},{"t":1182,"v":-0.4},{"t":1193,"v":0.3},
      {"t":1205,"v":-0.4},{"t":1216,"v":-1.0},{"t":1227,"v":-2.0},{"t":1238,"v":-1.0},{"t":1249,"v":-0.1},{"t":1260,"v":-0.4},{"t":1272,"v":-1.0},{"t":1283,"v":-0.4},{"t":1294,"v":0.3},{"t":1305,"v":-2.0},{"t":1316,"v":-3.9},{"t":1327,"v":-4.8},{"t":1339,"v":-2.9},{"t":1350,"v":-1.6},{"t":1361,"v":-1.0},{"t":1372,"v":-0.1},{"t":1383,"v":1.8},{"t":1394,"v":2.2},{"t":1406,"v":0.9},{"t":1417,"v":1.8},{"t":1428,"v":1.5},{"t":1437,"v":0.9},
      {"t":1441,"v":21.8},{"t":1446,"v":22.7},{"t":1453,"v":17.0},{"t":1461,"v":10.4},{"t":1470,"v":3.7},{"t":1479,"v":1.8},{"t":1489,"v":0.9},{"t":1501,"v":2.2},{"t":1512,"v":0.9},{"t":1523,"v":-1.0},{"t":1534,"v":-0.4},{"t":1545,"v":0.3},{"t":1556,"v":0.9},{"t":1568,"v":-0.1},{"t":1579,"v":-1.0},{"t":1590,"v":-2.0},{"t":1601,"v":-0.4},{"t":1612,"v":0.9},{"t":1623,"v":-0.1},{"t":1635,"v":-1.0},{"t":1646,"v":0.9},{"t":1657,"v":-1.6},{"t":1668,"v":-3.9},{"t":1676,"v":-2.9},
      {"t":1685,"v":-1.0},{"t":1696,"v":-0.1},{"t":1707,"v":0.3},{"t":1718,"v":-0.4},{"t":1730,"v":-1.0},{"t":1741,"v":-0.1},{"t":1752,"v":0.9},{"t":1763,"v":-0.4},{"t":1774,"v":-1.6},{"t":1785,"v":-1.0},{"t":1797,"v":-2.0},{"t":1808,"v":-1.6},{"t":1819,"v":-2.3},{"t":1830,"v":-1.6},{"t":1841,"v":-0.4},{"t":1852,"v":0.9},{"t":1864,"v":1.5},{"t":1875,"v":1.5},{"t":1886,"v":0.9},{"t":1897,"v":1.5},{"t":1908,"v":0.3},
      {"t":1925,"v":-0.4},{"t":1936,"v":0.3},{"t":1947,"v":0.9},{"t":1959,"v":1.8},{"t":1970,"v":0.9},{"t":1981,"v":-0.1},{"t":1992,"v":-0.4},{"t":2003,"v":-1.0},{"t":2015,"v":0.9},{"t":2022,"v":3.7},{"t":2031,"v":6.6},{"t":2042,"v":5.6},{"t":2054,"v":0.9},{"t":2065,"v":-1.0},{"t":2076,"v":-0.4},{"t":2087,"v":-0.1},{"t":2098,"v":0.3},{"t":2109,"v":1.5},{"t":2121,"v":0.9},{"t":2132,"v":-0.4},{"t":2143,"v":-0.1},{"t":2154,"v":0.3},
      {"t":2163,"v":-2.0},{"t":2171,"v":-5.7},{"t":2179,"v":-7.6},{"t":2188,"v":-6.7},{"t":2199,"v":-4.8},{"t":2210,"v":-3.5},{"t":2221,"v":-2.0},{"t":2232,"v":-0.4},{"t":2244,"v":0.3},{"t":2255,"v":0.9},{"t":2266,"v":0.3},{"t":2277,"v":-0.4},{"t":2288,"v":-0.1},{"t":2299,"v":0.9},{"t":2311,"v":0.3},{"t":2322,"v":0.9},{"t":2333,"v":2.8},{"t":2344,"v":1.8},{"t":2355,"v":-0.1},{"t":2366,"v":-1.6},{"t":2378,"v":-2.9},{"t":2389,"v":-3.5},{"t":2398,"v":-3.1}
    ],
    "dea": [
      {"t":0,"v":0.5},{"t":20,"v":3.0},{"t":40,"v":5.5},{"t":60,"v":3.5},{"t":80,"v":1.5},{"t":100,"v":0.2},{"t":120,"v":-0.5},{"t":140,"v":-1.0},{"t":160,"v":0.3},{"t":180,"v":1.5},{"t":200,"v":0.3},{"t":220,"v":-0.5},{"t":240,"v":-1.0},{"t":260,"v":-2.0},{"t":280,"v":-1.8},{"t":300,"v":-0.3},{"t":320,"v":0.4},{"t":340,"v":1.0},{"t":360,"v":0.5},{"t":380,"v":-0.5},{"t":400,"v":-1.5},{"t":420,"v":2.5},{"t":440,"v":4.0},{"t":460,"v":1.0},{"t":480,"v":-1.2},{"t":500,"v":-2.5},{"t":520,"v":-1.5},{"t":540,"v":0.0},{"t":560,"v":0.2},{"t":580,"v":1.2},{"t":600,"v":0.3},{"t":620,"v":-1.0},{"t":640,"v":-0.5},{"t":660,"v":-0.8},{"t":680,"v":-0.6},{"t":700,"v":-1.3},{"t":720,"v":0.3},{"t":740,"v":2.0},{"t":760,"v":0.8},{"t":780,"v":0.2},{"t":800,"v":2.8},{"t":820,"v":1.0},{"t":840,"v":-0.3},{"t":860,"v":-0.8},{"t":880,"v":-0.7},{"t":900,"v":-1.5},{"t":920,"v":-1.6},{"t":940,"v":-1.2},{"t":960,"v":0.2},{"t":980,"v":1.3},{"t":1000,"v":1.8},{"t":1020,"v":3.5},{"t":1040,"v":7.0},{"t":1060,"v":8.0},{"t":1080,"v":5.0},{"t":1100,"v":1.0},{"t":1120,"v":-0.8},{"t":1140,"v":0.0},{"t":1160,"v":0.5},{"t":1180,"v":0.0},{"t":1200,"v":-0.2},{"t":1220,"v":-0.8},{"t":1240,"v":-1.2},{"t":1260,"v":-0.3},{"t":1280,"v":-0.5},{"t":1300,"v":-0.6},{"t":1320,"v":-2.8},{"t":1340,"v":-3.0},{"t":1360,"v":-1.5},{"t":1380,"v":0.5},{"t":1400,"v":1.6},{"t":1420,"v":1.4},{"t":1438,"v":1.0},{"t":1444,"v":15.0},{"t":1450,"v":19.0},{"t":1460,"v":14.0},{"t":1470,"v":7.0},{"t":1480,"v":3.5},{"t":1500,"v":1.5},{"t":1520,"v":0.3},{"t":1540,"v":-0.2},{"t":1560,"v":0.5},{"t":1580,"v":-0.5},{"t":1600,"v":-1.2},{"t":1620,"v":0.2},{"t":1640,"v":-0.5},{"t":1660,"v":-0.6},{"t":1680,"v":-2.8},{"t":1700,"v":-0.8},{"t":1720,"v":-0.1},{"t":1740,"v":-0.6},{"t":1760,"v":0.2},{"t":1780,"v":-1.0},{"t":1800,"v":-1.5},{"t":1820,"v":-1.8},{"t":1840,"v":-0.9},{"t":1860,"v":0.8},{"t":1880,"v":1.3},{"t":1900,"v":1.0},{"t":1920,"v":0.3},{"t":1940,"v":0.2},{"t":1960,"v":1.2},{"t":1980,"v":0.5},{"t":2000,"v":-0.6},{"t":2020,"v":1.8},{"t":2035,"v":5.0},{"t":2045,"v":5.5},{"t":2060,"v":2.0},{"t":2080,"v":-0.5},{"t":2100,"v":0.0},{"t":2120,"v":1.0},{"t":2140,"v":0.0},{"t":2158,"v":0.1},{"t":2170,"v":-3.0},{"t":2180,"v":-5.5},{"t":2195,"v":-6.2},{"t":2210,"v":-4.5},{"t":2230,"v":-2.5},{"t":2250,"v":-0.5},{"t":2270,"v":0.3},{"t":2290,"v":-0.2},{"t":2310,"v":0.5},{"t":2330,"v":1.8},{"t":2345,"v":2.0},{"t":2360,"v":0.2},{"t":2375,"v":-1.8},{"t":2398,"v":-3.5}
    ]
  },
  "vconcat": [
    {
      "width": 716,
      "height": 204,
      "resolve": {"axis": {"x": "independent", "y": "independent"}},
      "layer": [
        {"data": {"name": "vgrid"}, "mark": {"type": "rule", "color": "#2c2c2c", "strokeWidth": 1}, "encoding": {"x": {"field": "t", "type": "quantitative", "scale": {"domain": [0, 2400], "nice": false, "zero": false}, "axis": null}}},
        {"data": {"name": "lb"}, "mark": {"type": "rule", "color": "#e8645c", "strokeWidth": 1.6}, "encoding": {"x": {"field": "t", "type": "quantitative", "axis": null}, "y": {"field": "up", "type": "quantitative", "scale": {"domain": [2195.69, 2388.61], "nice": false, "zero": false}, "axis": null}, "y2": {"datum": 2292.15}}},
        {"data": {"name": "lb"}, "mark": {"type": "rule", "color": "#1ee3ee", "strokeWidth": 1.6}, "encoding": {"x": {"field": "t", "type": "quantitative", "axis": null}, "y": {"field": "dn", "type": "quantitative", "axis": null}, "y2": {"datum": 2292.15}}},
        {"data": {"name": "yl"}, "mark": {"type": "line", "color": "#d9d03c", "strokeWidth": 1}, "encoding": {"x": {"field": "t", "type": "quantitative", "axis": null}, "y": {"field": "p", "type": "quantitative", "axis": {"orient": "right", "title": null, "grid": false, "values": [2388.61, 2372.53, 2356.45, 2340.38, 2324.30, 2308.23, 2292.15, 2276.07, 2260.00, 2243.92, 2227.85, 2211.77, 2195.69], "labelExpr": "format(abs(datum.value - 2292.15) / 2292.15 * 100, '.2f') + '%'", "labelPadding": 3, "labelColor": {"condition": [{"test": "datum.value > 2293", "value": "#e0564f"}, {"test": "datum.value < 2291", "value": "#3dbb4a"}], "value": "#c8c8c8"}}}, "detail": {"field": "d", "type": "nominal"}}},
        {"data": {"name": "wl"}, "mark": {"type": "line", "color": "#eeeeee", "strokeWidth": 1}, "encoding": {"x": {"field": "t", "type": "quantitative", "axis": null}, "y": {"field": "p", "type": "quantitative", "axis": {"orient": "left", "title": null, "grid": true, "values": [2388.61, 2372.53, 2356.45, 2340.38, 2324.30, 2308.23, 2292.15, 2276.07, 2260.00, 2243.92, 2227.85, 2211.77, 2195.69], "format": ".2f", "labelPadding": 2, "labelOffset": {"condition": {"test": "datum.value < 2196", "value": -2}, "value": 0}, "gridColor": {"condition": {"test": "datum.value == 2292.15", "value": "#4c4c4c"}, "value": "#262626"}, "labelColor": {"condition": [{"test": "datum.value > 2293", "value": "#e0564f"}, {"test": "datum.value < 2291", "value": "#3dbb4a"}], "value": "#c8c8c8"}}}, "detail": {"field": "d", "type": "nominal"}}},
        {"data": {"name": "days"}, "mark": {"type": "text", "align": "left", "baseline": "middle", "dx": 4, "color": "#8c8c8c", "fontSize": 9}, "encoding": {"x": {"field": "t", "type": "quantitative", "axis": null}, "y": {"datum": 2381.0, "axis": null}, "text": {"field": "label"}}},
        {"data": {"values": [{}]}, "mark": {"type": "text", "align": "left", "baseline": "middle", "color": "#c8c8c8", "fontSize": 9.5}, "encoding": {"x": {"datum": 12, "axis": null}, "y": {"datum": 2398.1, "axis": null}, "text": {"value": "创业板指"}}},
        {"data": {"values": [{}]}, "mark": {"type": "text", "align": "left", "baseline": "middle", "color": "#c8c8c8", "fontSize": 9.5}, "encoding": {"x": {"datum": 154, "axis": null}, "y": {"datum": 2398.1, "axis": null}, "text": {"value": "分时"}}},
        {"data": {"values": [{}]}, "mark": {"type": "text", "align": "left", "baseline": "middle", "color": "#d9d03c", "fontSize": 9.5}, "encoding": {"x": {"datum": 236, "axis": null}, "y": {"datum": 2398.1, "axis": null}, "text": {"value": "领先指标:"}}},
        {"data": {"values": [{}]}, "mark": {"type": "text", "align": "left", "baseline": "middle", "color": "#b9d34f", "fontSize": 9.5}, "encoding": {"x": {"datum": 369, "axis": null}, "y": {"datum": 2398.1, "axis": null}, "text": {"value": "2253.80"}}},
        {"data": {"values": [{}]}, "mark": {"type": "text", "align": "left", "baseline": "middle", "color": "#a8a8a8", "fontSize": 9.5}, "encoding": {"x": {"datum": 503, "axis": null}, "y": {"datum": 2398.1, "axis": null}, "text": {"value": "成交额(元)"}}}
      ]
    },
    {
      "width": 716,
      "height": 51,
      "resolve": {"axis": {"x": "independent", "y": "independent"}},
      "layer": [
        {"data": {"name": "vgrid"}, "mark": {"type": "rule", "color": "#2c2c2c", "strokeWidth": 1}, "encoding": {"x": {"field": "t", "type": "quantitative", "scale": {"domain": [0, 2400], "nice": false, "zero": false}, "axis": null}}},
        {"data": {"name": "vol"}, "mark": {"type": "bar", "width": 2, "opacity": 0.82}, "encoding": {"x": {"field": "t", "type": "quantitative", "axis": null}, "y": {"field": "v", "type": "quantitative", "scale": {"domain": [0, 334], "nice": false}, "axis": {"orient": "left", "title": null, "values": [111, 222, 334], "labelExpr": "datum.value + '亿'", "labelFont": "Noto Sans CJK SC", "labelColor": "#a8a8a8", "labelPadding": 2, "labelFontSize": 9.5, "labelOffset": {"condition": {"test": "datum.value > 300", "value": 3}, "value": 0}, "grid": true}}, "color": {"field": "c", "type": "nominal", "scale": {"domain": ["g", "r"], "range": ["#3fb649", "#d0564e"]}, "legend": null}}},
        {"data": {"values": [{}]}, "mark": {"type": "rule", "color": "#3a3a3a"}, "encoding": {"y": {"datum": 0, "axis": null}}}
      ]
    },
    {
      "width": 716,
      "height": 60,
      "resolve": {"axis": {"x": "independent", "y": "independent"}},
      "layer": [
        {"data": {"name": "vgrid"}, "mark": {"type": "rule", "color": "#2c2c2c", "strokeWidth": 1}, "encoding": {"x": {"field": "t", "type": "quantitative", "scale": {"domain": [0, 2400], "nice": false, "zero": false}, "axis": {"orient": "bottom", "title": null, "grid": false, "values": [0, 240, 480, 720, 960, 1200, 1440, 1680, 1920, 2160, 2340], "labelExpr": "datum.value == 2340 ? '14:00' : ['12/02','12/03','12/04','12/05','12/06','12/09','12/10','12/11','12/12','12/13'][datum.value / 240]", "labelAlign": {"condition": {"test": "datum.value == 2340", "value": "center"}, "value": "left"}, "labelColor": "#a8a8a8", "labelPadding": 3}}}},
        {"data": {"name": "mb"}, "mark": {"type": "bar", "width": 2}, "encoding": {"x": {"field": "t", "type": "quantitative", "axis": null}, "y": {"field": "m", "type": "quantitative", "scale": {"domain": [-8.79, 25.38], "nice": false, "zero": false}, "axis": {"orient": "left", "title": null, "values": [21.96, 12.28, 2.60, -7.08], "format": ".2f", "labelPadding": 2, "grid": true, "gridColor": "#1e1e1e", "labelColor": {"condition": {"test": "datum.value > 0", "value": "#e0564f"}, "value": "#3dbb4a"}}}, "y2": {"datum": 0}, "color": {"condition": {"test": "datum.m > 0", "value": "#e8564e"}, "value": "#22d3e6"}}},
        {"data": {"name": "dea"}, "mark": {"type": "line", "color": "#d9d03c", "strokeWidth": 1}, "encoding": {"x": {"field": "t", "type": "quantitative", "axis": null}, "y": {"field": "v", "type": "quantitative", "axis": null}}},
        {"data": {"name": "dif"}, "mark": {"type": "line", "color": "#e8e8e8", "strokeWidth": 1}, "encoding": {"x": {"field": "t", "type": "quantitative", "axis": null}, "y": {"field": "v", "type": "quantitative", "axis": null}}},
        {"data": {"values": [{}]}, "mark": {"type": "point", "shape": "square", "filled": false, "size": 72, "color": "#777777", "strokeWidth": 1}, "encoding": {"x": {"datum": 24, "axis": null}, "y": {"datum": 27.1, "axis": null}}},
        {"data": {"values": [{}]}, "mark": {"type": "text", "align": "center", "baseline": "middle", "color": "#aaaaaa", "fontSize": 8.5}, "encoding": {"x": {"datum": 24, "axis": null}, "y": {"datum": 27.1, "axis": null}, "text": {"value": "?"}}},
        {"data": {"values": [{}]}, "mark": {"type": "text", "align": "left", "baseline": "middle", "color": "#9a9a9a", "fontSize": 9}, "encoding": {"x": {"datum": 54, "axis": null}, "y": {"datum": 27.1, "axis": null}, "text": {"value": "MACD (12,26,9)"}}},
        {"data": {"values": [{}]}, "mark": {"type": "text", "align": "left", "baseline": "middle", "color": "#e6e6e6", "fontSize": 9}, "encoding": {"x": {"datum": 312, "axis": null}, "y": {"datum": 27.1, "axis": null}, "text": {"value": "DIF:-0.270↑"}}},
        {"data": {"values": [{}]}, "mark": {"type": "text", "align": "left", "baseline": "middle", "color": "#d9d03c", "fontSize": 9}, "encoding": {"x": {"datum": 499, "axis": null}, "y": {"datum": 27.1, "axis": null}, "text": {"value": "DEA:-1.118↑"}}},
        {"data": {"values": [{}]}, "mark": {"type": "text", "align": "left", "baseline": "middle", "color": "#e0564f", "fontSize": 9}, "encoding": {"x": {"datum": 701, "axis": null}, "y": {"datum": 27.1, "axis": null}, "text": {"value": "MACD:1.697↑"}}},
        {"data": {"values": [{}]}, "mark": {"type": "text", "align": "left", "baseline": "middle", "color": "#9a9a9a", "fontSize": 9}, "encoding": {"x": {"datum": 2021, "axis": null}, "y": {"datum": 27.1, "axis": null}, "text": {"value": "改参数"}}},
        {"data": {"values": [{}]}, "mark": {"type": "text", "align": "left", "baseline": "middle", "color": "#9a9a9a", "fontSize": 9}, "encoding": {"x": {"datum": 2139, "axis": null}, "y": {"datum": 27.1, "axis": null}, "text": {"value": "加指标"}}},
        {"data": {"values": [{}]}, "mark": {"type": "text", "align": "left", "baseline": "middle", "color": "#9a9a9a", "fontSize": 9}, "encoding": {"x": {"datum": 2253, "axis": null}, "y": {"datum": 27.1, "axis": null}, "text": {"value": "换指标"}}},
        {"data": {"values": [{}]}, "mark": {"type": "point", "shape": "square", "filled": false, "size": 72, "color": "#777777", "strokeWidth": 1}, "encoding": {"x": {"datum": 2375, "axis": null}, "y": {"datum": 27.1, "axis": null}}},
        {"data": {"values": [{}]}, "mark": {"type": "text", "align": "center", "baseline": "middle", "color": "#999999", "fontSize": 9}, "encoding": {"x": {"datum": 2375, "axis": null}, "y": {"datum": 27.1, "axis": null}, "text": {"value": "×"}}}
      ]
    }
  ]
}
